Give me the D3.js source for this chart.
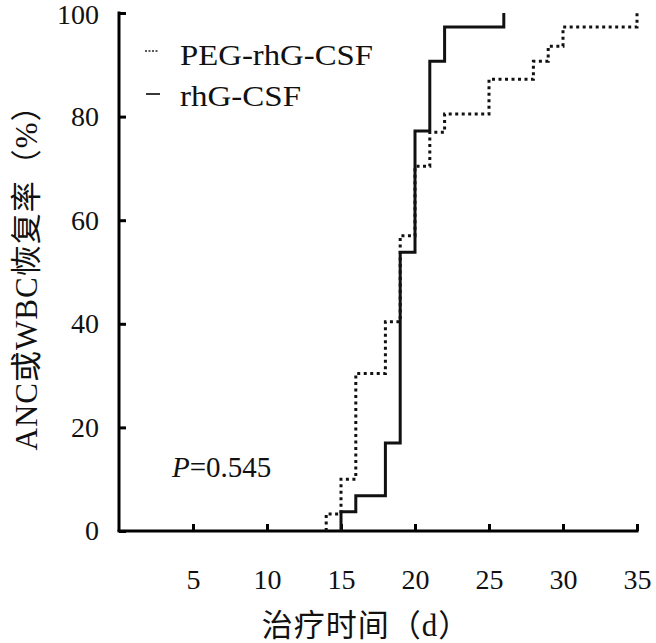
<!DOCTYPE html>
<html><head><meta charset="utf-8">
<script src="https://cdn.jsdelivr.net/npm/d3@7"></script>
<style>
html,body{margin:0;padding:0;background:#fff;}
svg{display:block;}
svg text{font-family:"Liberation Serif","DejaVu Serif","Noto Sans CJK SC",serif;}
</style>
</head><body>
<svg id="chart" width="656" height="643"></svg>
<script>
// Data (step-function recovery curves)
const seriesNames = ["PEG-rhG-CSF", "rhG-CSF"];
const pegDays   = [14, 14, 15, 16, 18, 19, 20, 21, 22, 25, 28, 29, 30, 35];
const pegValues = [0, 3.3, 10, 30.4, 40.4, 57, 70.4, 77, 80.5, 87.2, 90.7, 93.6, 97.3, 100];
const rhgDays   = [15, 15, 16, 18, 19, 20, 21, 22, 26];
const rhgValues = [0, 3.7, 6.8, 17, 53.8, 77.2, 90.7, 97.3, 100];
const xTicks = [5, 10, 15, 20, 25, 30, 35];
const yTicks = [0, 20, 40, 60, 80, 100];
const xTitle = "治疗时间（d）";
const yTitle = "ANC或WBC恢复率（%）";
const pText = "=0.545";

const svg = d3.select("#chart");
const serif = '"Liberation Serif","DejaVu Serif","Noto Sans CJK SC",serif';
const x = d3.scaleLinear().domain([0, 35]).range([119, 637]);
const y = d3.scaleLinear().domain([0, 100]).range([531, 13]);

// axes
const xAxis = d3.axisBottom(x).tickValues(xTicks).tickSizeInner(-7).tickSizeOuter(0).tickPadding(38);
const gx = svg.append("g").attr("transform", `translate(0,${y(0)})`).call(xAxis);
const yAxis = d3.axisLeft(y).tickValues(yTicks).tickSizeInner(-7).tickSizeOuter(0).tickPadding(20);
const gy = svg.append("g").attr("transform", `translate(${x(0)},0)`).call(yAxis);
[gx, gy].forEach(g => {
  g.attr("font-family", null);
  g.select(".domain").attr("stroke", "#000").attr("stroke-width", 3);
  g.selectAll(".tick line").attr("stroke", "#000").attr("stroke-width", 3);
  g.selectAll(".tick text").style("font-family", serif).style("font-size", "28px").attr("fill", "#111");
});
gx.select(".domain").attr("d", `M${x(0)-1.5},0H${x(35)+1.5}`);
gy.select(".domain").attr("d", `M0,${y(0)}V${y(100)-1.5}`);
gy.selectAll(".tick text").filter(d => d === 100).attr("dy", "0.38em");

// curves
const line = d3.line().x(d => x(d[0])).y(d => y(d[1])).curve(d3.curveStepAfter);
const pegPts = pegDays.map((d, i) => [d, pegValues[i]]);
const rhgPts = rhgDays.map((d, i) => [d, rhgValues[i]]);
svg.append("path").datum(pegPts).attr("d", line)
  .attr("fill", "none").attr("stroke", "#111").attr("stroke-width", 3)
  .attr("stroke-dasharray", "3,3.5");
svg.append("path").datum(rhgPts).attr("d", line)
  .attr("fill", "none").attr("stroke", "#111").attr("stroke-width", 3);

// legend
svg.append("line").attr("x1", 145).attr("x2", 159).attr("y1", 51).attr("y2", 51)
  .attr("stroke", "#222").attr("stroke-width", 1.5).attr("stroke-dasharray", "2,1.5");
svg.append("line").attr("x1", 146).attr("x2", 160).attr("y1", 94).attr("y2", 94)
  .attr("stroke", "#222").attr("stroke-width", 1.8);
svg.append("text").attr("x", 180).attr("y", 65).style("font-family", serif).style("font-size", "29px")
  .attr("textLength", 193).attr("lengthAdjust", "spacingAndGlyphs").attr("fill", "#111").text(seriesNames[0]);
svg.append("text").attr("x", 180).attr("y", 106).style("font-family", serif).style("font-size", "29px")
  .attr("textLength", 121).attr("lengthAdjust", "spacingAndGlyphs").attr("fill", "#111").text(seriesNames[1]);

// P value
const pt = svg.append("text").attr("x", 172).attr("y", 477).style("font-family", serif)
  .style("font-size", "29px").attr("fill", "#111");
pt.append("tspan").style("font-style", "italic").text("P");
pt.append("tspan").text(pText);

// axis titles
svg.append("text").attr("x", 366).attr("y", 636).attr("text-anchor", "middle")
  .style("font-family", serif).style("font-size", "31px").style("letter-spacing", "1px")
  .attr("fill", "#111").text(xTitle);
svg.append("text").attr("transform", "translate(37,270) rotate(-90)").attr("text-anchor", "middle")
  .style("font-family", serif).style("font-size", "31px").style("letter-spacing", "1px")
  .attr("fill", "#111").text(yTitle);
</script>
</body></html>
